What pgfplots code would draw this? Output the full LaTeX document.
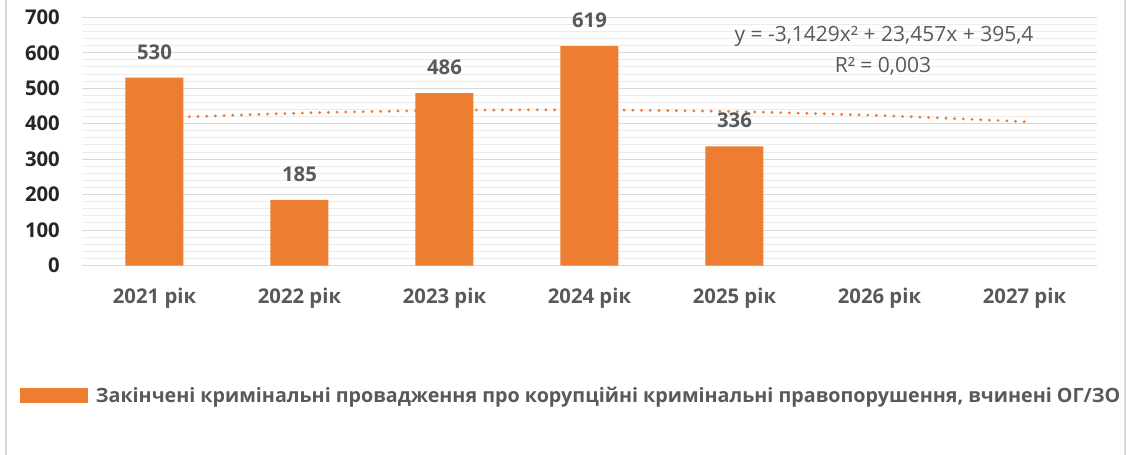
\documentclass[border=0pt]{standalone}
\usepackage{fontspec}
\setmainfont{Open Sans}
\usepackage{pgfplots}
\pgfplotsset{compat=1.18}
\definecolor{barc}{HTML}{ED7D31}
\definecolor{txt}{HTML}{595959}
\definecolor{gridc}{HTML}{D9D9D9}
\definecolor{minorc}{HTML}{ECECEC}
\newcommand{\fs}{\fontsize{20.3bp}{24bp}\selectfont}
\newcommand{\fl}{\fontsize{19.7bp}{24bp}\selectfont}
\newcommand{\fe}{\fontsize{21bp}{25bp}\selectfont}
\begin{document}
\begin{tikzpicture}
\begin{axis}[
  anchor=south west, at={(0,0)},
  scale only axis, width=1015bp, height=248.2bp,
  xmin=0.5, xmax=7.5, ymin=0, ymax=700,
  xtick={1,...,7},
  xticklabels={2021 рік,2022 рік,2023 рік,2024 рік,2025 рік,2026 рік,2027 рік},
  ytick={0,100,...,700}, minor y tick num=4,
  ymajorgrids, yminorgrids,
  major grid style={gridc, line width=1bp},
  minor grid style={minorc, line width=1bp},
  axis line style={draw=none},
  tick style={draw=none},
  major tick length=0pt, minor tick length=0pt,
  xticklabel style={font=\fs\bfseries, text=txt, inner sep=0pt, anchor=north, yshift=-22bp},
  yticklabel style={font=\fs\bfseries, text=black!85, inner sep=0pt, anchor=east, xshift=-22bp},
  /pgf/number format/assume math mode=true,
  clip=false,
  legend style={at={(-0.0614,-0.525)}, anchor=west, draw=none, fill=none, inner sep=0pt,
    column sep=8bp, nodes={inner sep=0pt, font=\fl\bfseries, text=txt}},
]
\addplot[barc, line width=3.2bp, dash pattern=on 0bp off 8.7bp, line cap=round, smooth, forget plot]
  coordinates {(1,415.714) (2,429.742) (3,437.485) (4,438.942) (5,434.113) (6,422.998) (7,405.597)};
\addplot[ybar, bar width=58bp, bar shift=0pt, fill=barc, draw=none,
  nodes near coords,
  nodes near coords style={font=\fs\bfseries, text=txt, anchor=south, inner sep=0pt, yshift=18bp},
  legend image code/.code={\fill[barc] (0bp,-7.5bp) rectangle (68bp,7.5bp);}]
  coordinates {(1,530) (2,185) (3,486) (4,619) (5,336)};
\addlegendentry{Закінчені кримінальні провадження про корупційні кримінальні правопорушення, вчинені ОГ/ЗО}
\node[font=\fe, text=txt, inner sep=0pt] at (axis cs:6.031,647) {y = -3,1429x² + 23,457x + 395,4};
\node[font=\fe, text=txt, inner sep=0pt] at (axis cs:6.024,562.6) {R² = 0,003};
\end{axis}
\pgfresetboundingbox
\useasboundingbox (-82bp,-189.5bp) rectangle (1047bp,265.5bp);
\draw[gridc, line width=1.5bp] (-76bp,-210bp) rectangle (1043bp,290bp);
\end{tikzpicture}
\end{document}
